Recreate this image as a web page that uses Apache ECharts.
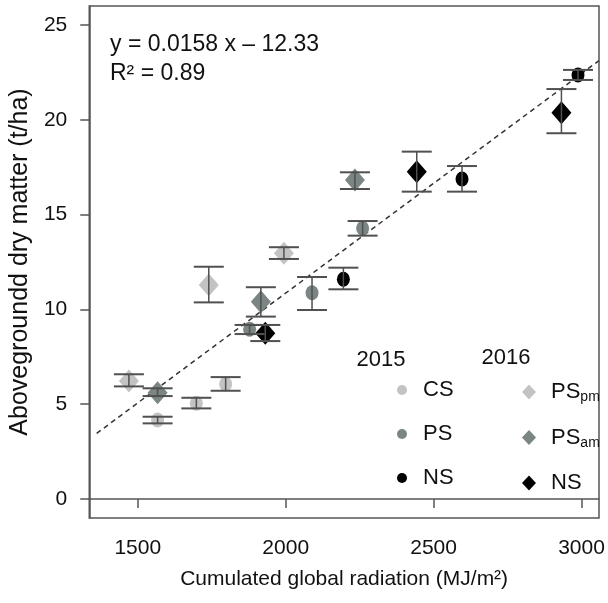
<!DOCTYPE html>
<html><head><meta charset="utf-8">
<script src="https://cdn.jsdelivr.net/npm/echarts@6/dist/echarts.min.js"></script>
<style>html,body{margin:0;padding:0;background:#fff}#c{width:608px;height:603px}</style>
</head><body><div id="c"></div>
<script>
// ---- data ----
const xTicks = [1500, 2000, 2500, 3000];
const yTicks = [0, 5, 10, 15, 20, 25];

const cs15_x = [1567, 1698, 1797];
const cs15_y = [4.17, 5.05, 6.07];
const cs15_lo = [3.99, 4.78, 5.71];
const cs15_hi = [4.34, 5.34, 6.43];

const ps15_x = [1878, 2089, 2260];
const ps15_y = [8.95, 10.88, 14.28];
const ps15_lo = [8.70, 9.97, 13.89];
const ps15_hi = [9.18, 11.71, 14.66];

const ns15_x = [2195, 2596, 2988];
const ns15_y = [11.59, 16.88, 22.36];
const ns15_lo = [11.06, 16.21, 22.10];
const ns15_hi = [12.20, 17.56, 22.63];

const pspm16_x = [1470, 1740, 1994];
const pspm16_y = [6.22, 11.29, 12.96];
const pspm16_lo = [5.94, 10.37, 12.66];
const pspm16_hi = [6.58, 12.25, 13.28];

const psam16_x = [1567, 1916, 2234];
const psam16_y = [5.61, 10.41, 16.83];
const psam16_lo = [5.43, 9.62, 16.35];
const psam16_hi = [5.84, 11.17, 17.23];

const ns16_x = [1931, 2443, 2932];
const ns16_y = [8.74, 17.26, 20.37];
const ns16_lo = [8.33, 16.21, 19.29];
const ns16_hi = [9.18, 18.32, 21.62];

const fitLine_x = [1361, 3059];
const fitLine_y = [3.46, 23.12];

// ---- build ----
const FONT = 'Liberation Sans, Arial, sans-serif';
const LIGHT = '#c3c3c3', MID = '#7b8583', DARK = '#000000';
const BAR = '#505050';

function pts(xs, ys){ return xs.map((x,i)=>[x, ys[i]]); }
function bars(xs, lo, hi){ return xs.map((x,i)=>[x, lo[i], hi[i]]); }

const groups = [
  {name:'CS', x:cs15_x, y:cs15_y, lo:cs15_lo, hi:cs15_hi, color:LIGHT, sym:'circle'},
  {name:'PS', x:ps15_x, y:ps15_y, lo:ps15_lo, hi:ps15_hi, color:MID, sym:'circle'},
  {name:'NS15', x:ns15_x, y:ns15_y, lo:ns15_lo, hi:ns15_hi, color:DARK, sym:'circle'},
  {name:'PSpm', x:pspm16_x, y:pspm16_y, lo:pspm16_lo, hi:pspm16_hi, color:LIGHT, sym:'diamond'},
  {name:'PSam', x:psam16_x, y:psam16_y, lo:psam16_lo, hi:psam16_hi, color:MID, sym:'diamond'},
  {name:'NS16', x:ns16_x, y:ns16_y, lo:ns16_lo, hi:ns16_hi, color:DARK, sym:'diamond'}
];

function errRender(params, api){
  const x = api.value(0), lo = api.value(1), hi = api.value(2);
  const a = api.coord([x, lo]), b = api.coord([x, hi]);
  const hw = 15;
  return {type:'group', children:[
    {type:'line', shape:{x1:a[0], y1:a[1], x2:b[0], y2:b[1]}, style:{stroke:BAR, lineWidth:1.5}},
    {type:'line', shape:{x1:a[0]-hw, y1:a[1], x2:a[0]+hw, y2:a[1]}, style:{stroke:BAR, lineWidth:2}},
    {type:'line', shape:{x1:b[0]-hw, y1:b[1], x2:b[0]+hw, y2:b[1]}, style:{stroke:BAR, lineWidth:2}}
  ]};
}

const series = [];
series.push({
  type:'line', name:'fit', data: pts(fitLine_x, fitLine_y), symbol:'none', silent:true,
  lineStyle:{color:'#333', width:1.5, type:[5,4]}, z:1
});
groups.forEach(g=>{
  series.push({
    type:'scatter', name:g.name, data: pts(g.x, g.y), symbol:g.sym,
    symbolSize: g.sym==='circle' ? [13,15] : [20,23],
    itemStyle:{color:g.color, opacity:1}, z:2
  });
  series.push({
    type:'custom', name:g.name+'_err', data: bars(g.x, g.lo, g.hi),
    renderItem: errRender, z:3, silent:true
  });
});

const labelMap = {CS:'CS', PS:'PS', NS15:'NS', PSpm:'{m|PS}{s|pm}', PSam:'{m|PS}{s|am}', NS16:'NS'};
function legendText(pad){
  return {
    color:'#111', fontSize:22, fontFamily:FONT, padding:[0,0,0,pad],
    rich:{ m:{fontSize:22, fontFamily:FONT, color:'#111'},
           s:{fontSize:14, fontFamily:FONT, color:'#111', padding:[11,0,0,0]} }
  };
}

const option = {
  animation:false,
  backgroundColor:'#fff',
  grid:{left:89, right:9, top:6, bottom:85, show:true, borderColor:'#555', borderWidth:1.5},
  xAxis:{
    type:'value', min:1336, max:3059,
    name:'Cumulated global radiation (MJ/m²)', nameLocation:'middle', nameGap:51,
    nameTextStyle:{fontSize:21, fontFamily:FONT, color:'#111'},
    axisLine:{show:true, lineStyle:{color:'#555', width:1.5}},
    axisTick:{show:true, length:9, customValues:xTicks, lineStyle:{color:'#555', width:1.5}},
    axisLabel:{customValues:xTicks, margin:20, fontSize:21, fontFamily:FONT, color:'#111',
               formatter:v=>String(v)},
    splitLine:{show:false}
  },
  yAxis:{
    type:'value', min:-1, max:26,
    name:'Abovegroundd dry matter (t/ha)', nameLocation:'middle', nameGap:54,
    nameTextStyle:{fontSize:25, fontFamily:FONT, color:'#111'},
    axisLine:{show:true, lineStyle:{color:'#555', width:1.5}},
    axisTick:{show:true, length:9, customValues:yTicks, lineStyle:{color:'#555', width:1.5}},
    axisLabel:{customValues:yTicks, margin:22, fontSize:21, fontFamily:FONT, color:'#111',
               formatter:v=>String(v)},
    splitLine:{show:false}
  },
  legend:[
    {data:['CS','PS','NS15'], orient:'vertical', left:392, top:374, itemWidth:10, itemHeight:11,
     itemGap:22, formatter:n=>labelMap[n], textStyle:legendText(11), selectedMode:false},
    {data:['PSpm','PSam','NS16'], orient:'vertical', left:517, top:376, itemWidth:14, itemHeight:15,
     itemGap:22, formatter:n=>labelMap[n], textStyle:legendText(10), selectedMode:false}
  ],
  graphic:[
    {type:'text', left:110, top:33, style:{text:'y = 0.0158 x – 12.33', fontSize:23, fontFamily:FONT, fill:'#111'}},
    {type:'text', left:110, top:62, style:{text:'R² = 0.89', fontSize:23, fontFamily:FONT, fill:'#111'}},
    {type:'text', x:381, y:360, style:{text:'2015', fontSize:22, fontFamily:FONT, fill:'#111', align:'center', verticalAlign:'middle'}},
    {type:'text', x:506, y:358, style:{text:'2016', fontSize:22, fontFamily:FONT, fill:'#111', align:'center', verticalAlign:'middle'}}
  ],
  series
};
const chart = echarts.init(document.getElementById('c'), null, {renderer:'canvas'});
chart.setOption(option);
</script>
</body></html>
